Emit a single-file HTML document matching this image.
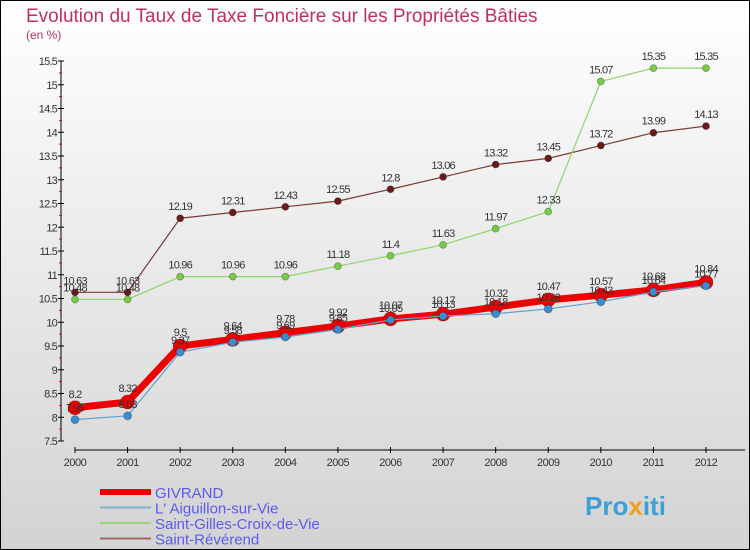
<!DOCTYPE html>
<html><head><meta charset="utf-8"><style>
html,body{margin:0;padding:0;}
body{width:750px;height:550px;overflow:hidden;font-family:"Liberation Sans",sans-serif;}
svg{display:block;}
</style></head><body>
<svg id="chart" width="750" height="550" xmlns="http://www.w3.org/2000/svg">
<defs><linearGradient id="bg" x1="0" y1="0" x2="0" y2="1"><stop offset="0" stop-color="#ffffff"/><stop offset="1" stop-color="#d3d3d3"/></linearGradient></defs>
<rect x="0.5" y="0.5" width="749" height="549" fill="url(#bg)" stroke="#000"/>
<text x="26" y="22" font-size="19" fill="#c0305e">Evolution du Taux de Taxe Foncière sur les Propriétés Bâties</text>
<text x="26" y="39" font-size="12" fill="#c0305e">(en %)</text>
<g id="axes"></g>
<g id="series"></g>
<g id="legend"></g>
<text x="585" y="515" font-size="26" font-weight="bold" fill="#3aa0d8">Pro<tspan fill="#f0a020">x</tspan>iti</text>
</svg>
<script>
const years = [2000,2001,2002,2003,2004,2005,2006,2007,2008,2009,2010,2011,2012];
const givrand = [8.2,8.32,9.5,9.64,9.78,9.92,10.07,10.17,10.32,10.47,10.57,10.68,10.84];
const aiguillon = [7.95,8.03,9.37,9.58,9.69,9.85,10.05,10.13,10.18,10.28,10.43,10.64,10.77];
const saintGilles = [10.48,10.48,10.96,10.96,10.96,11.18,11.4,11.63,11.97,12.33,15.07,15.35,15.35];
const saintReverend = [10.63,10.63,12.19,12.31,12.43,12.55,12.8,13.06,13.32,13.45,13.72,13.99,14.13];
const yTicks = [7.5,8,8.5,9,9.5,10,10.5,11,11.5,12,12.5,13,13.5,14,14.5,15,15.5];
const seriesNames = ["GIVRAND","L' Aiguillon-sur-Vie","Saint-Gilles-Croix-de-Vie","Saint-Révérend"];

const NS="http://www.w3.org/2000/svg";
function xs(i){return 75+i*(706-75)/(years.length-1);}
function ys(v){return 441-(v-7.5)*47.5;}
function mk(tag,attrs,parent){const e=document.createElementNS(NS,tag);for(const k in attrs)e.setAttribute(k,attrs[k]);parent.appendChild(e);return e;}
const axes=document.getElementById('axes');
const ax=mk('line',{x1:61,y1:61,x2:61,y2:441,stroke:'#000','stroke-width':1},axes);


yTicks.forEach((t,i)=>{
  const y=ys(t);
  const tk=mk('line',{x1:58,y1:y,x2:64,y2:y,stroke:'#000'},axes);
  
  
  const tx=mk('text',{x:57,y:y+4,'font-size':11,'text-anchor':'end',fill:'#333','letter-spacing':'-0.8'},axes);
  tx.textContent=String(t);
  
  
  if(i<yTicks.length-1){
    const my=ys(t+0.25);
    const m=mk('line',{x1:59,y1:my,x2:62,y2:my,stroke:'#e00'},axes);
    
    
  }
});
const xa=mk('line',{x1:75,y1:450,x2:745,y2:450,stroke:'#000'},axes);


years.forEach((yr,i)=>{
  const x=xs(i);
  const tk=mk('line',{x1:x,y1:447,x2:x,y2:453,stroke:'#000'},axes);
  
  
  const tx=mk('text',{x:x,y:466,'font-size':11,'text-anchor':'middle',fill:'#333','letter-spacing':'-0.5'},axes);
  tx.textContent=String(yr);
  
  
});
const ser=document.getElementById('series');
function draw(vals,name,color,width,r,fill,dy){
  const g=mk('g',{},ser);
  
  
  const pts=vals.map((v,i)=>xs(i)+','+ys(v)).join(' ');
  const pl=mk('polyline',{points:pts,fill:'none',stroke:color,'stroke-width':width,'stroke-linejoin':'round'},g);
  
  
  vals.forEach((v,i)=>{
    const c=mk('circle',{cx:xs(i),cy:ys(v),r:r,fill:fill,stroke:'rgba(0,0,0,0.3)','stroke-width':0.8},g);
    
    
    const t=mk('text',{x:xs(i),y:ys(v)+dy,'font-size':11,'text-anchor':'middle',fill:'#333','letter-spacing':'-0.8'},g);
    t.textContent=String(v);
    
    
  });
}
draw(saintReverend,'saint-reverend-series','#7a3a3a',1.2,3.5,'#6b1a1a',-8);
draw(saintGilles,'saint-gilles-series','#8fd46a',1.2,3.5,'#77cc44',-8);
draw(givrand,'givrand-series','#ee0000',7,7,'#ee0000',-10);
draw(aiguillon,'aiguillon-series','#5fa0d0',1.2,4,'#3a8cd0',-8);

const leg=document.getElementById('legend');
const lc=['#ee0000','#7fb0d0','#9ad47a','#9a6a6a'];
const lw=[6,2,2,2];
seriesNames.forEach((n,i)=>{
  const y=492+i*15.5;
  const g=mk('g',{},leg);
  
  
  const l=mk('line',{x1:100,x2:151,y1:y,y2:y,stroke:lc[i],'stroke-width':lw[i]},g);
  
  
  const t=mk('text',{x:155,y:y+6,'font-size':15,fill:'#5a5aee'},g);
  t.textContent=n;
  
  
});
</script>
</body></html>
